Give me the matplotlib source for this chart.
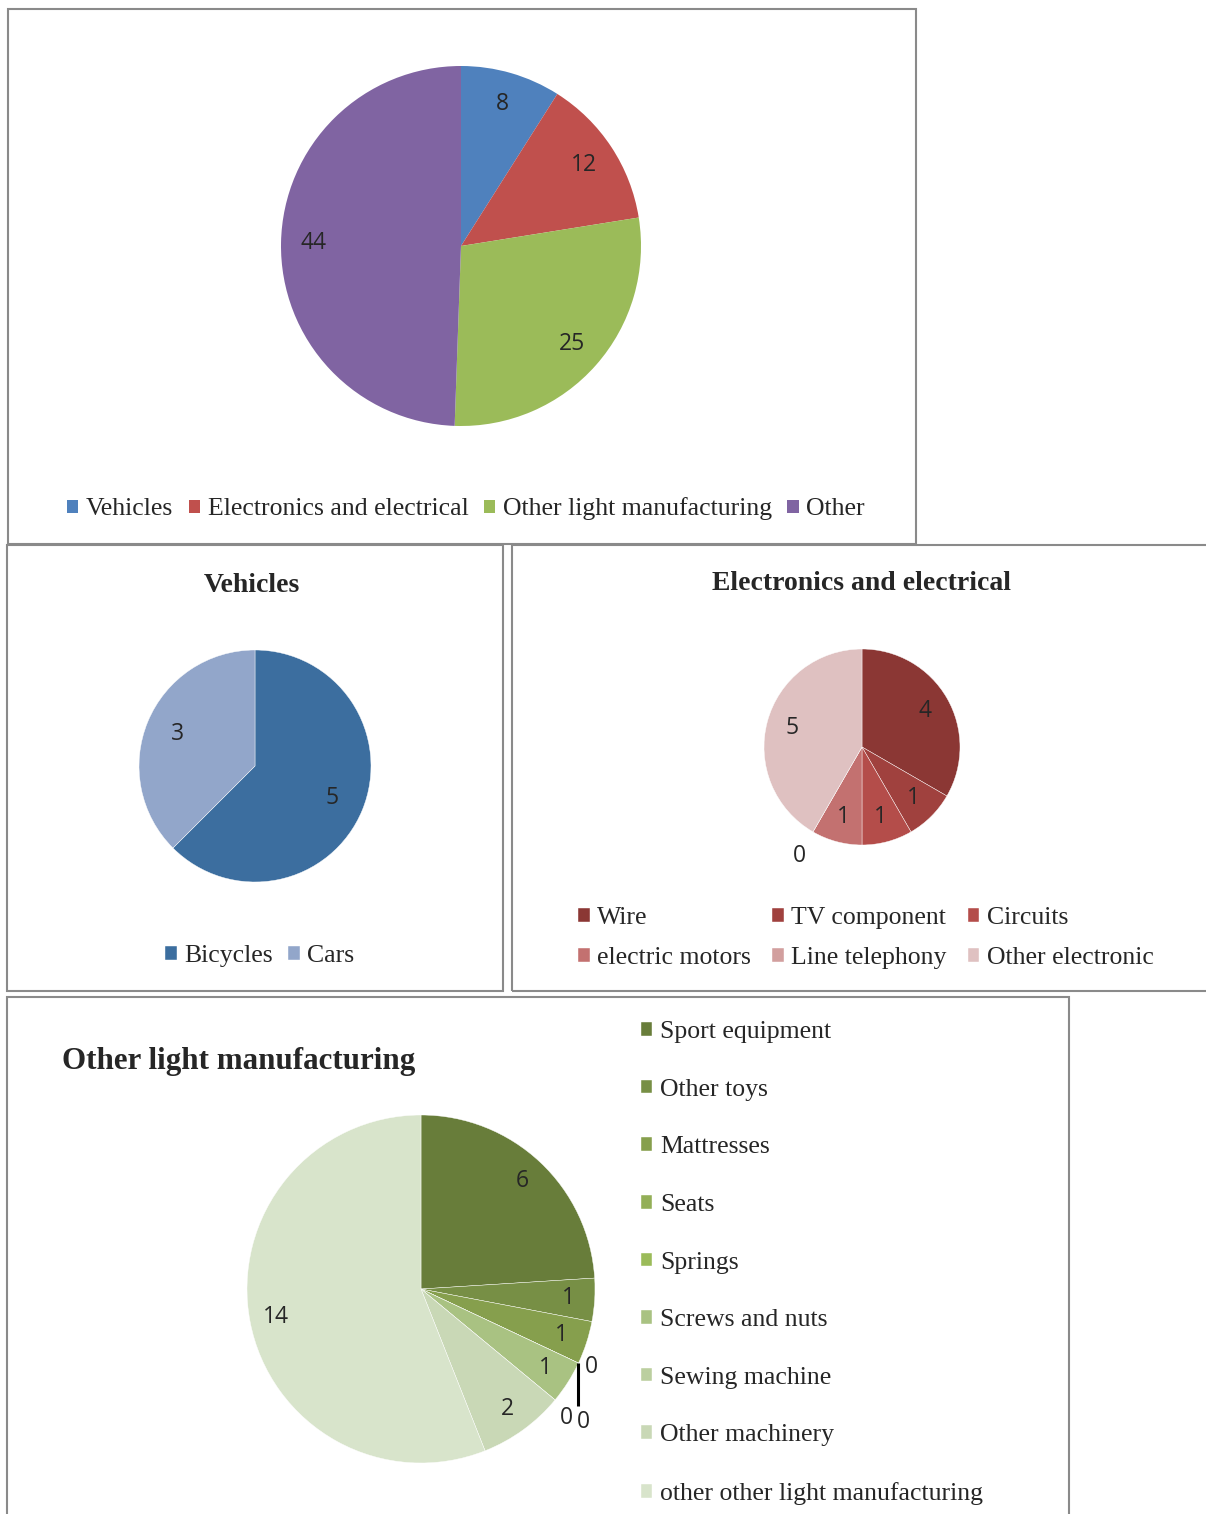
import numpy as np
import matplotlib
matplotlib.use('Agg')
import matplotlib.pyplot as plt
from matplotlib.patches import Rectangle

W, H = 1206, 1514

# ---- data ----
main_labels = ['Vehicles', 'Electronics and electrical', 'Other light manufacturing', 'Other']
main_values = [8, 12, 25, 44]
main_colors = ['#4F81BD', '#C0504D', '#9BBB59', '#8064A2']

veh_labels = ['Bicycles', 'Cars']
veh_values = [5, 3]
veh_colors = ['#3C6E9F', '#92A6CA']

elec_labels = ['Wire', 'TV component', 'Circuits', 'electric motors', 'Line telephony', 'Other electronic']
elec_values = [4, 1, 1, 1, 0, 5]
elec_colors = ['#8B3734', '#A0413E', '#B44D4A', '#C37170', '#D29F9E', '#DFC1C1']

olm_labels = ['Sport equipment', 'Other toys', 'Mattresses', 'Seats', 'Springs',
              'Screws and nuts', 'Sewing machine', 'Other machinery',
              'other other light manufacturing']
olm_values = [6, 1, 1, 0, 0, 1, 0, 2, 14]
olm_colors = ['#687D3A', '#778F45', '#869F4D', '#93AF57', '#9BBB59',
              '#A9C282', '#BBCF9F', '#C9D8B6', '#D8E4CB']

SERIF = 'Liberation Serif'
NUMF = 'Open Sans'
TXT = '#262626'
NUMSIZE = 16.5


def fx(x):
    return x / W


def fy(y):
    return 1 - y / H


def pie_axes(fig, cx, cy, r):
    ax = fig.add_axes([fx(cx - r), fy(cy + r), 2 * r / W, 2 * r / H])
    return ax


def draw_pie(ax, values, colors, label_r, lw):
    wedges, _ = ax.pie(values, colors=colors, startangle=90, counterclock=False,
                       radius=1, wedgeprops=dict(edgecolor='white', linewidth=lw))
    ax.set_xlim(-1, 1)
    ax.set_ylim(-1, 1)
    for w, v in zip(wedges, values):
        if v == 0:
            continue
        a = np.deg2rad((w.theta1 + w.theta2) / 2)
        ax.text(label_r * np.cos(a), label_r * np.sin(a), str(v), ha='center', va='center',
                fontsize=NUMSIZE, family=NUMF, color=TXT)
    return wedges


def panel(x0, y0, x1, y1):
    fig.add_artist(Rectangle((fx(x0), fy(y1)), (x1 - x0) / W, (y1 - y0) / H,
                             transform=fig.transFigure, fill=False,
                             ec='#8a8a8a', lw=1.5, clip_on=False))


def legend(handles, labels, cx, cy, ncol, loc='center', spacing=0.5, colsp=0.6):
    fig.legend(handles, labels, loc=loc, bbox_to_anchor=(fx(cx), fy(cy)), ncol=ncol,
               frameon=False, prop=dict(family=SERIF, size=18.5),
               handlelength=0.44, handleheight=0.44, handletextpad=0.3,
               columnspacing=colsp, labelspacing=spacing, borderpad=0, borderaxespad=0,
               labelcolor=TXT)


fig = plt.figure(figsize=(W / 100, H / 100), dpi=100)

# panel borders
panel(8, 9, 916, 544)
panel(7, 545, 503, 991)
panel(512, 545, 1215, 991)
panel(7, 997, 1069, 1525)

# ---- main pie ----
ax1 = pie_axes(fig, 461, 246, 180)
w1 = draw_pie(ax1, main_values, main_colors, 0.82, 0)
legend(w1, main_labels, 466, 509, 4)

# ---- vehicles ----
fig.text(fx(252), fy(586), 'Vehicles', ha='center', va='center', family=SERIF,
         weight='bold', size=20, color=TXT)
ax2 = pie_axes(fig, 255, 766, 116)
w2 = draw_pie(ax2, veh_values, veh_colors, 0.72, 0.3)
legend(w2, veh_labels, 260, 956, 2, spacing=0.5)

# ---- electronics ----
fig.text(fx(862), fy(583), 'Electronics and electrical', ha='center', va='center',
         family=SERIF, weight='bold', size=20, color=TXT)
ax3 = pie_axes(fig, 862, 747, 98)
w3 = draw_pie(ax3, elec_values, elec_colors, 0.74, 0.3)
for w, v in zip(w3, elec_values):
    if v == 0:
        a = np.deg2rad(w.theta1)
        ax3.text(1.28 * np.cos(a), 1.28 * np.sin(a), '0', ha='center', va='center',
                 fontsize=NUMSIZE, family=NUMF, color=TXT)
# legend is read row by row in the reference
order = [0, 3, 1, 4, 2, 5]
legend([w3[i] for i in order], [elec_labels[i] for i in order], 866, 938, 3,
       spacing=0.7, colsp=0.82)

# ---- other light manufacturing ----
fig.text(fx(62), fy(1061), 'Other light manufacturing', ha='left', va='center',
         family=SERIF, weight='bold', size=22.3, color=TXT)
R4 = 174
ax4 = pie_axes(fig, 421, 1289, R4)
w4 = draw_pie(ax4, olm_values, olm_colors, 0.85, 0.3)
# zero labels: pixel offsets from the slice position on the rim
zero_offsets = {3: (13, 4), 4: (5, 59), 6: (11, 18)}
for i, (w, v) in enumerate(zip(w4, olm_values)):
    if v != 0:
        continue
    a = np.deg2rad(w.theta1)
    bx, by = np.cos(a), np.sin(a)
    dx, dy = zero_offsets[i]
    ax4.text(bx + dx / R4, by - dy / R4, '0', ha='center', va='center',
             fontsize=NUMSIZE, family=NUMF, color=TXT, clip_on=False)
    if i == 3:
        ax4.plot([bx, bx], [by, by - 43 / R4], color='black', lw=2.2, clip_on=False,
                 solid_capstyle='butt')
legend(w4, olm_labels, 641, 1263, 1, loc='center left', spacing=1.385)

fig.savefig('out.png', dpi=100)
